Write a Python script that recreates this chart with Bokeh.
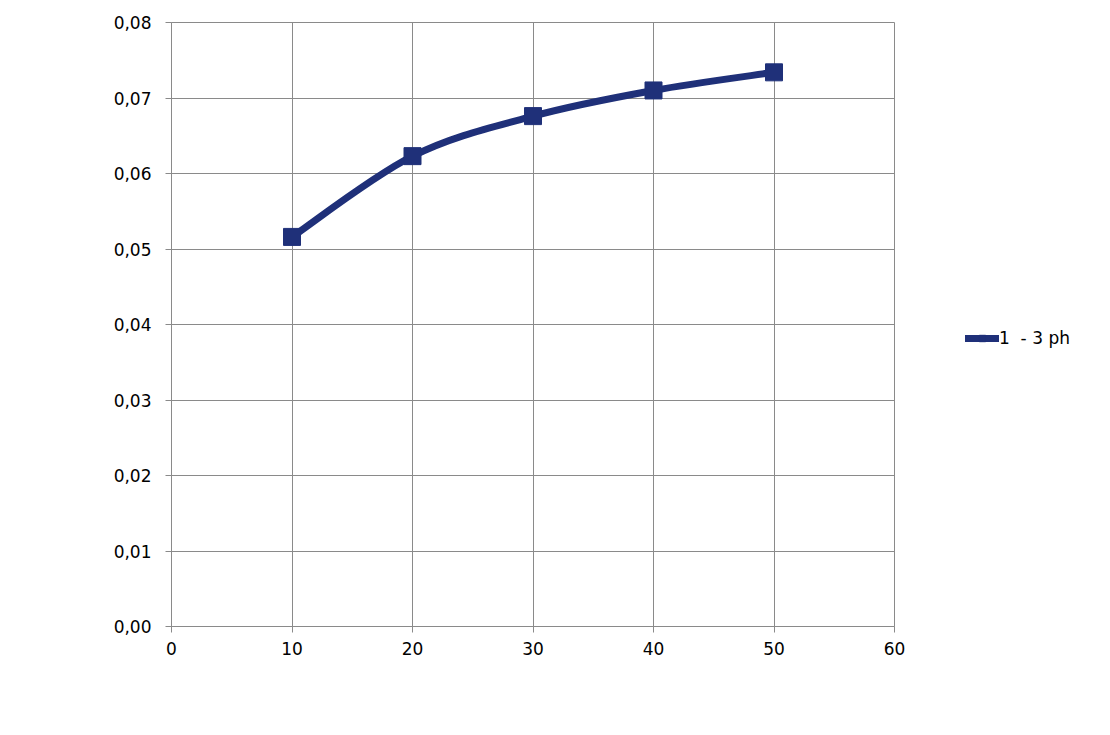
from bokeh.plotting import figure
from bokeh.models import Legend, LegendItem, Range1d, FixedTicker, CustomJSTickFormatter
from bokeh.embed import file_html
from bokeh.resources import INLINE
import numpy as np

# Data
x_vals = [10, 20, 30, 40, 50]
y_vals = [0.0516, 0.0623, 0.0676, 0.0710, 0.0734]
series_name = "1  - 3 ph"
x_ticks = [0, 10, 20, 30, 40, 50, 60]
y_ticks = [0.0, 0.01, 0.02, 0.03, 0.04, 0.05, 0.06, 0.07, 0.08]

COLOR = "#1f3079"
GRID = "#8a8a8a"
FONT = "DejaVu Sans"

p = figure(width=1090, height=715, output_backend="svg", toolbar_location=None,
           x_range=Range1d(0, 60), y_range=Range1d(0, 0.08),
           frame_width=723, frame_height=604,
           min_border_left=171, min_border_top=22, min_border_right=196, min_border_bottom=89)
p.outline_line_color = GRID
p.outline_line_width = 1
p.background_fill_color = "white"

# Smoothed line (Catmull-Rom -> cubic Bezier control points)
xs = np.array(x_vals, dtype=float)
ys = np.array(y_vals, dtype=float)
n = len(xs)
x0, y0, x1, y1, cx0, cy0, cx1, cy1 = [], [], [], [], [], [], [], []
for i in range(n - 1):
    pm = i - 1 if i > 0 else i
    pn = i + 2 if i + 2 < n else i + 1
    x0.append(xs[i]); y0.append(ys[i]); x1.append(xs[i + 1]); y1.append(ys[i + 1])
    cx0.append(xs[i] + (xs[i + 1] - xs[pm]) / 6); cy0.append(ys[i] + (ys[i + 1] - ys[pm]) / 6)
    cx1.append(xs[i + 1] - (xs[pn] - xs[i]) / 6); cy1.append(ys[i + 1] - (ys[pn] - ys[i]) / 6)
bz = p.bezier(x0=x0, y0=y0, x1=x1, y1=y1, cx0=cx0, cy0=cy0, cx1=cx1, cy1=cy1,
              line_color=COLOR, line_width=7, line_cap="round", line_join="round")
sc = p.scatter(x_vals, y_vals, marker="square", size=17, fill_color=COLOR, line_color=COLOR)

# Axes
for ax in (p.xaxis[0], p.yaxis[0]):
    ax.axis_line_color = GRID
    ax.major_tick_line_color = GRID
    ax.major_tick_out = 6
    ax.major_tick_in = 0
    ax.minor_tick_line_color = None
    ax.major_label_text_font = FONT
    ax.major_label_text_font_size = "17px"
    ax.major_label_text_color = "#000000"
p.xaxis.ticker = FixedTicker(ticks=x_ticks)
p.yaxis.ticker = FixedTicker(ticks=y_ticks)
p.yaxis.formatter = CustomJSTickFormatter(code="return tick.toFixed(2).replace('.', ',');")
p.xaxis.major_label_standoff = 9
p.yaxis.major_label_standoff = 14

p.xgrid.ticker = FixedTicker(ticks=x_ticks)
p.ygrid.ticker = FixedTicker(ticks=y_ticks)
p.grid.grid_line_color = GRID
p.grid.grid_line_width = 1

legend = Legend(items=[LegendItem(label=series_name, renderers=[bz, sc])],
                location=(71, 278), glyph_width=34, glyph_height=16,
                label_text_font=FONT, label_text_font_size="17px", label_text_color="#000000",
                border_line_color=None, background_fill_alpha=0, padding=2, spacing=0,
                label_standoff=0, margin=0)
p.add_layout(legend, "right")

open("out.html", "w").write(file_html(p, INLINE))
